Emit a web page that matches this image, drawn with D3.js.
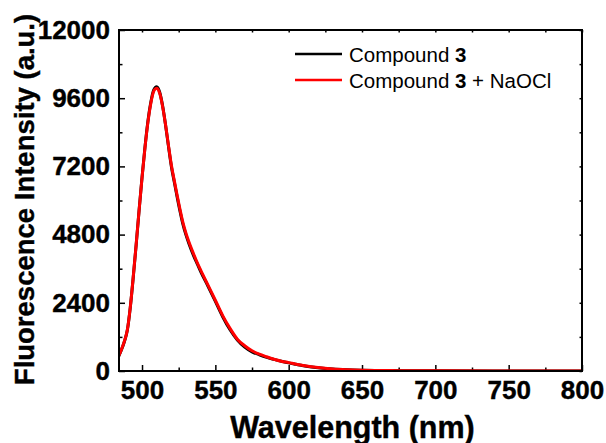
<!DOCTYPE html>
<html>
<head>
<meta charset="utf-8">
<script src="https://cdn.jsdelivr.net/npm/d3@7"></script>
<style>
 body { margin: 0; background: #fff; }
 svg { display: block; font-family: 'Liberation Sans', Arial, sans-serif; }
</style>
</head>
<body>
<svg id="chart" width="606" height="443"></svg>
<script>
// emission spectra
var wavelength = [484, 486, 488, 490, 492, 494, 496, 498, 500, 502, 504, 506, 508, 510, 512, 514, 516, 518, 520, 522,
 524, 526, 528, 530, 532, 535, 538, 540, 545, 550, 555, 560, 565, 570, 575, 580, 585, 590, 595, 600,
 605, 610, 620, 630, 640, 650, 675, 700, 750, 800];
var compound3 = [510, 750, 1040, 1440, 2240, 3290, 4440, 5650, 6810, 7870, 8780, 9460, 9890, 10000, 9820, 9340, 8670, 7920, 7200, 6650,
 6110, 5600, 5140, 4780, 4480, 4080, 3730, 3500, 2980, 2450, 1910, 1450, 1090, 840, 675, 570, 480, 410, 345, 285,
 235, 187, 118, 70, 44, 29, 12, 6, 2, 0];
var compound3NaOCl = [520, 760, 1050, 1450, 2250, 3300, 4450, 5650, 6800, 7850, 8750, 9420, 9850, 9950, 9780, 9320, 8680, 7950, 7250, 6700,
 6170, 5660, 5200, 4840, 4540, 4140, 3770, 3550, 3020, 2490, 1950, 1500, 1120, 890, 710, 590, 500, 415, 345, 295,
 240, 195, 120, 72, 45, 28, 12, 6, 2, 0];

var xMajor = [500, 550, 600, 650, 700, 750, 800];
var xMinor = [525, 575, 625, 675, 725, 775];
var yMajor = [0, 2400, 4800, 7200, 9600, 12000];
var yMinor = [1200, 3600, 6000, 8400, 10800];

var seriesNames = ['Compound ', 'Compound '];
var seriesSuffix = ['', ' + NaOCl'];
var seriesColors = ['#000000', '#ff0000'];

var margin = {top: 30, right: 24, bottom: 72, left: 119};
var svg = d3.select('#chart');
var width = 606 - margin.left - margin.right;
var height = 443 - margin.top - margin.bottom;

var x = d3.scaleLinear().domain([484.3, 800]).range([0, width]);
var y = d3.scaleLinear().domain([0, 12000]).range([height, 0]);

var plot = svg.append('g')
 .attr('transform', 'translate(' + margin.left + ',' + margin.top + ')');

// clip so the curve does not bleed over the frame
plot.append('clipPath').attr('id', 'clip')
 .append('rect').attr('width', width).attr('height', height);

// styles shared by every axis group
function styleAxis(g, fontSize)
{
 g.select('.domain').remove();
 g.selectAll('line').style('stroke', '#000').style('stroke-width', '1.5px');
 g.selectAll('text')
  .style('font-size', fontSize + 'px')
  .style('font-weight', 'bold')
  .style('fill', '#000')
  .style('stroke', '#000')
  .style('stroke-width', '0.4px');
}

// bottom axis, ticks point inward
plot.append('g')
 .attr('transform', 'translate(0,' + height + ')')
 .call(d3.axisBottom(x).tickValues(xMajor).tickSize(-6).tickPadding(9.5).tickFormat(d3.format('d')))
 .call(styleAxis, 26);
plot.append('g')
 .attr('transform', 'translate(0,' + height + ')')
 .call(d3.axisBottom(x).tickValues(xMinor).tickSize(-3.5).tickFormat(''))
 .call(styleAxis, 26);

// left axis
plot.append('g')
 .call(d3.axisLeft(y).tickValues(yMajor).tickSize(-6).tickPadding(9).tickFormat(d3.format('d')))
 .call(styleAxis, 26);
plot.append('g')
 .call(d3.axisLeft(y).tickValues(yMinor).tickSize(-3.5).tickFormat(''))
 .call(styleAxis, 26);

// top and right: small mirrored ticks, no labels
plot.append('g')
 .call(d3.axisTop(x).tickValues(xMajor.concat(xMinor)).tickSize(-2.5).tickFormat(''))
 .call(styleAxis, 26);
plot.append('g')
 .attr('transform', 'translate(' + width + ',0)')
 .call(d3.axisRight(y).tickValues(yMajor.concat(yMinor)).tickSize(-2.5).tickFormat(''))
 .call(styleAxis, 26);

// spectra, black first then red on top
var allSeries = [compound3, compound3NaOCl];
var line = d3.line()
 .x(function(d, i) { return x(wavelength[i]); })
 .y(function(d) { return y(d); })
 .curve(d3.curveMonotoneX);

var curves = plot.append('g').attr('clip-path', 'url(#clip)');
allSeries.forEach(function(values, k)
{
 curves.append('path')
  .datum(values)
  .attr('d', line)
  .style('fill', 'none')
  .style('stroke', seriesColors[k])
  .style('stroke-width', '3px')
  .style('stroke-linejoin', 'round');
});

// frame
plot.append('rect')
 .attr('width', width)
 .attr('height', height)
 .style('fill', 'none')
 .style('stroke', '#000')
 .style('stroke-width', '2px');

// legend
var legend = plot.append('g').attr('transform', 'translate(176,24)');
seriesNames.forEach(function(name, k)
{
 var row = legend.append('g').attr('transform', 'translate(0,' + (k * 26) + ')');
 row.append('line')
  .attr('x1', 0).attr('x2', 47)
  .attr('y1', 0).attr('y2', 0)
  .style('stroke', seriesColors[k])
  .style('stroke-width', '2.5px');
 var label = row.append('text')
  .attr('x', 54)
  .attr('y', 7.5)
  .style('font-size', '20.5px')
  .style('fill', '#000');
 label.append('tspan').text(name);
 label.append('tspan').style('font-weight', 'bold').text('3');
 label.append('tspan').text(seriesSuffix[k]);
});

// axis titles
svg.append('text')
 .attr('x', margin.left + width / 2 + 2)
 .attr('y', 438)
 .attr('text-anchor', 'middle')
 .style('font-size', '30.5px')
 .style('font-weight', 'bold')
 .style('stroke', '#000')
 .style('stroke-width', '0.4px')
 .text('Wavelength (nm)');

svg.append('text')
 .attr('transform', 'translate(34,' + (margin.top + height / 2 - 1) + ') rotate(-90)')
 .attr('text-anchor', 'middle')
 .style('font-size', '27.5px')
 .style('font-weight', 'bold')
 .style('stroke', '#000')
 .style('stroke-width', '0.4px')
 .text('Fluorescence Intensity (a.u.)');
</script>
</body>
</html>
